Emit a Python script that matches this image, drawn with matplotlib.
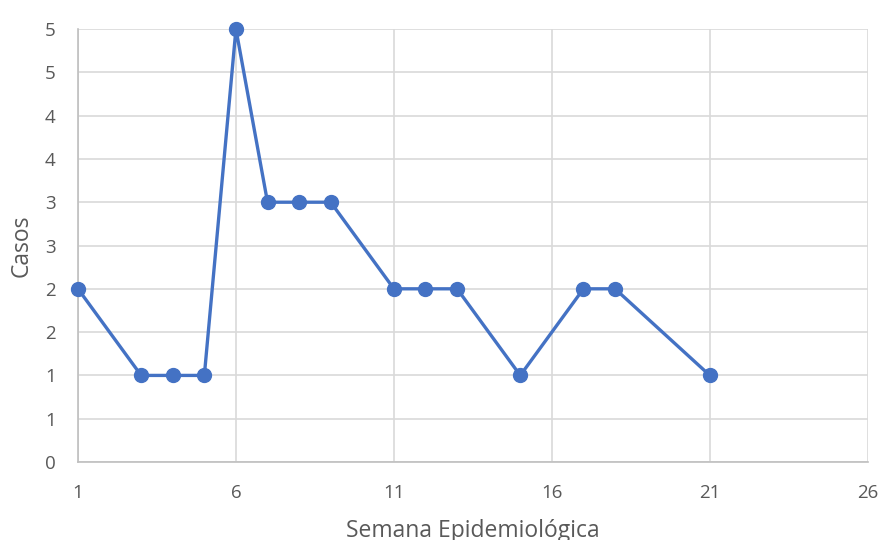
import math
import matplotlib
matplotlib.use("Agg")
import matplotlib.pyplot as plt
from matplotlib.ticker import FuncFormatter, MultipleLocator

# semana epidemiológica y número de casos
semanas = [1, 3, 4, 5, 6, 7, 8, 9, 11, 12, 13, 15, 17, 18, 21]
casos = [2, 1, 1, 1, 5, 3, 3, 3, 2, 2, 2, 1, 2, 2, 1]
x_ticks = [1, 6, 11, 16, 21, 26]

plt.rcParams['font.family'] = ['Open Sans', 'DejaVu Sans']

fig = plt.figure(figsize=(8.81, 5.4), dpi=100)
ax = fig.add_axes([0.0885, 0.1444, 0.8965, 0.8019])

ax.plot(semanas, casos, color='#4472C4', linewidth=2.4, marker='o',
        markersize=10, zorder=3, clip_on=False)

ax.set_xlim(1, 26)
ax.set_ylim(0, 5)
ax.set_xticks(x_ticks)
ax.yaxis.set_major_locator(MultipleLocator(0.5))
# Excel-style rounding of the axis labels
ax.yaxis.set_major_formatter(FuncFormatter(lambda v, p: str(int(math.floor(v + 0.5)))))

ax.grid(True, color='#d9d9d9', linewidth=1.2)
ax.set_axisbelow(True)
for s in ['top', 'right']:
    ax.spines[s].set_visible(False)
for s in ['left', 'bottom']:
    ax.spines[s].set_color('#bfbfbf')
    ax.spines[s].set_linewidth(1.2)
ax.tick_params(length=0, labelsize=13.5, labelcolor='#595959')
ax.tick_params(axis='x', pad=16)
ax.tick_params(axis='y', pad=16)

ax.set_xlabel('Semana Epidemiológica', fontsize=16.5, color='#595959', labelpad=12)
ax.set_ylabel('Casos', fontsize=16.5, color='#595959', labelpad=8)

plt.savefig('out.png', dpi=100)
